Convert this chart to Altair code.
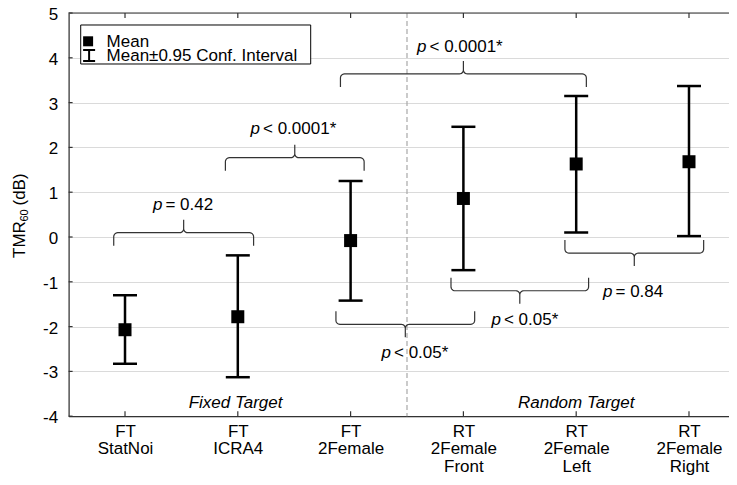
import json
import numpy as np
import pandas as pd
import altair as alt

# ---------------- data ----------------
line1 = ["FT", "FT", "FT", "RT", "RT", "RT"]
line2 = ["StatNoi", "ICRA4", "2Female", "2Female", "2Female", "2Female"]
line3 = ["", "", "", "Front", "Left", "Right"]
positions = [1, 2, 3, 4, 5, 6]
means = [-2.07, -1.78, -0.08, 0.86, 1.63, 1.68]
ci_low = [-2.83, -3.13, -1.42, -0.74, 0.10, 0.02]
ci_high = [-1.30, -0.41, 1.25, 2.46, 3.15, 3.37]

# significance brackets (curly braces)
br_x1 = [0.90, 1.89, 2.91, 2.87, 3.89, 4.90]
br_x2 = [2.14, 3.12, 5.09, 4.10, 5.11, 6.13]
br_y = [0.096, 1.77, 3.64, -1.95, -1.20, -0.36]
br_dir = [1, 1, 1, -1, -1, -1]          # 1 = tip up, -1 = tip down
br_text = ["= 0.42", "< 0.0001*", "< 0.0001*", "< 0.05*", "< 0.05*", "= 0.84"]
br_text_x = [1.341, 2.206, 3.682, 3.367, 4.342, 5.331]
br_text_y = [0.60, 2.30, 4.14, -2.70, -1.96, -1.33]

group_names = ["Fixed Target", "Random Target"]
group_x = [1.98, 5.0]
group_y = [-3.81, -3.81]
divider_x = [3.5]
y_ticks = list(range(-4, 6))

# ---------------- geometry ----------------
W = 660.4
H = 403.2
X_DOM = [0.5, 0.5 + W / 112.8]
Y_DOM = [-4, 5]
px_x = (X_DOM[1] - X_DOM[0]) / W
px_y = (Y_DOM[1] - Y_DOM[0]) / H

FONT = "Liberation Sans"

xs = alt.Scale(domain=X_DOM, nice=False, zero=False)
ys = alt.Scale(domain=Y_DOM, nice=False, zero=False)

labels = [[a, b] + ([c] if c else []) for a, b, c in zip(line1, line2, line3)]
label_expr = json.dumps(labels) + "[datum.value - 1]"

df = pd.DataFrame({"pos": positions, "mean": means, "lo": ci_low, "hi": ci_high})
caps = pd.DataFrame({"pos": positions * 2, "v": ci_low + ci_high})

# brace paths
rx, ry = 4 * px_x, 4 * px_y
e, t = 13 * px_y, 13 * px_y
rows = []
for i, (x1, x2, y, d) in enumerate(zip(br_x1, br_x2, br_y, br_dir)):
    xm = (x1 + x2) / 2
    pts = [(x1, y - d * e)]
    for th in np.linspace(np.pi, np.pi / 2, 7):
        pts.append((x1 + rx + rx * np.cos(th), y - d * ry + d * ry * np.sin(th)))
    for th in np.linspace(-np.pi / 2, 0, 7):
        pts.append((xm - rx + rx * np.cos(th), y + d * ry + d * ry * np.sin(th)))
    pts.append((xm, y + d * t))
    for th in np.linspace(np.pi, 1.5 * np.pi, 7):
        pts.append((xm + rx + rx * np.cos(th), y + d * ry + d * ry * np.sin(th)))
    for th in np.linspace(np.pi / 2, 0, 7):
        pts.append((x2 - rx + rx * np.cos(th), y - d * ry + d * ry * np.sin(th)))
    pts.append((x2, y - d * e))
    for j, (px, py) in enumerate(pts):
        rows.append({"id": i, "o": j, "x": px, "y": py})
braces = pd.DataFrame(rows)

ptext = pd.DataFrame({"x": br_text_x, "y": br_text_y, "t": br_text})
groups = pd.DataFrame({"x": group_x, "y": group_y, "t": group_names})
divider = pd.DataFrame({"x": divider_x})
yt = pd.DataFrame({"v": y_ticks})
one = pd.DataFrame({"a": [0]})

x_axis = alt.Axis(values=positions, labelExpr=label_expr, grid=False, ticks=False,
                  domainColor="#333333", domainWidth=1.2, labelFontSize=17,
                  labelColor="black", labelFont=FONT, labelLineHeight=17.5,
                  labelPadding=7, title=None, labelFlush=False, labelOverlap=False)
y_axis = alt.Axis(values=y_ticks, grid=True, gridColor="#dadada", gridWidth=1,
                  ticks=False, domainColor="#333333", domainWidth=1.2,
                  labelFontSize=17, labelColor="black", labelFont=FONT,
                  labelPadding=11, labelFlush=False, labelOffset=1.5,
                  labelExpr="'' + datum.value", title=None)

bars = alt.Chart(df).mark_rule(color="black", strokeWidth=2.5).encode(
    x=alt.X("pos:Q", scale=xs, axis=x_axis),
    y=alt.Y("lo:Q", scale=ys, axis=y_axis),
    y2="hi:Q",
)
cap_layer = alt.Chart(caps).mark_tick(orient="horizontal", size=24, thickness=2.5,
                                      color="black", opacity=1).encode(
    x=alt.X("pos:Q", scale=xs), y=alt.Y("v:Q", scale=ys))
squares = alt.Chart(df).mark_square(size=169, color="black", opacity=1).encode(
    x=alt.X("pos:Q", scale=xs), y=alt.Y("mean:Q", scale=ys))

div_layer = alt.Chart(divider).mark_rule(color="#a8a8a8", strokeWidth=1.2,
                                         strokeDash=[5, 3]).encode(
    x=alt.X("x:Q", scale=xs))

brace_layer = alt.Chart(braces).mark_line(color="#333333", strokeWidth=1.2).encode(
    x=alt.X("x:Q", scale=xs), y=alt.Y("y:Q", scale=ys),
    detail="id:N", order="o:Q")

p_layer = alt.Chart(ptext).mark_text(text="p", font=FONT, fontSize=17,
                                     fontStyle="italic", align="right",
                                     baseline="alphabetic", dx=-1, color="black").encode(
    x=alt.X("x:Q", scale=xs), y=alt.Y("y:Q", scale=ys))
rest_layer = alt.Chart(ptext).mark_text(font=FONT, fontSize=17, align="left",
                                        baseline="alphabetic", dx=2, color="black").encode(
    x=alt.X("x:Q", scale=xs), y=alt.Y("y:Q", scale=ys), text="t:N")

group_layer = alt.Chart(groups).mark_text(font=FONT, fontSize=17, fontStyle="italic",
                                          align="center", baseline="alphabetic",
                                          color="black").encode(
    x=alt.X("x:Q", scale=xs), y=alt.Y("y:Q", scale=ys), text="t:N")

top_ticks = alt.Chart(df).mark_rule(color="#333333", strokeWidth=1.2).encode(
    x=alt.X("pos:Q", scale=xs), y=alt.value(0), y2=alt.value(5))
bot_ticks = alt.Chart(df).mark_rule(color="#333333", strokeWidth=1.2).encode(
    x=alt.X("pos:Q", scale=xs), y=alt.value(H), y2=alt.value(H - 5))
left_ticks = alt.Chart(yt).mark_rule(color="#333333", strokeWidth=1.2).encode(
    y=alt.Y("v:Q", scale=ys), x=alt.value(0), x2=alt.value(4))
top_line = alt.Chart(one).mark_rule(color="#333333", strokeWidth=1.2).encode(
    x=alt.value(0), x2=alt.value(W), y=alt.value(0))

# y-axis title with subscript
t_tmr = alt.Chart(one).mark_text(text="TMR", font=FONT, fontSize=17, angle=270,
                                 align="left", baseline="alphabetic", color="black").encode(
    x=alt.value(-43.6), y=alt.value(245))
t_sub = alt.Chart(one).mark_text(text="60", font=FONT, fontSize=11, angle=270,
                                 align="left", baseline="alphabetic", color="black").encode(
    x=alt.value(-40.3), y=alt.value(208.5))
t_db = alt.Chart(one).mark_text(text="(dB)", font=FONT, fontSize=17, angle=270,
                                align="left", baseline="alphabetic", color="black").encode(
    x=alt.value(-43.6), y=alt.value(192.5))

# legend box
leg_box = alt.Chart(one).mark_rect(fill="white", stroke="black", strokeWidth=1).encode(
    x=alt.value(12.1), x2=alt.value(242.1), y=alt.value(12), y2=alt.value(51))
leg_sq = alt.Chart(one).mark_square(size=100, color="black", opacity=1).encode(
    x=alt.value(19.5), y=alt.value(28.3))
leg_bar = alt.Chart(one).mark_rule(color="black", strokeWidth=2).encode(
    x=alt.value(20.5), y=alt.value(36.3), y2=alt.value(48.7))
leg_cap1 = alt.Chart(one).mark_rule(color="black", strokeWidth=2).encode(
    x=alt.value(14.5), x2=alt.value(26.5), y=alt.value(37))
leg_cap2 = alt.Chart(one).mark_rule(color="black", strokeWidth=2).encode(
    x=alt.value(14.5), x2=alt.value(26.5), y=alt.value(48))
leg_t1 = alt.Chart(one).mark_text(text="Mean", font=FONT, fontSize=17, align="left",
                                  baseline="alphabetic", color="black").encode(
    x=alt.value(38), y=alt.value(33.7))
leg_t2 = alt.Chart(one).mark_text(text="Mean±0.95 Conf. Interval", font=FONT,
                                  fontSize=17, align="left", baseline="alphabetic",
                                  color="black").encode(
    x=alt.value(38), y=alt.value(48))

chart = alt.layer(
    bars, div_layer, brace_layer, cap_layer, squares, p_layer, rest_layer,
    group_layer, top_ticks, bot_ticks, left_ticks, top_line,
    t_tmr, t_sub, t_db,
    leg_box, leg_sq, leg_bar, leg_cap1, leg_cap2, leg_t1, leg_t2,
).properties(
    width=W, height=H,
    autosize=alt.AutoSizeParams(type="none"),
    padding={"left": 60.6, "top": 5, "right": 0, "bottom": 60},
).configure_view(stroke=None).configure(font=FONT)

chart.save("out.html", embed_options={"renderer": "svg", "actions": False})
